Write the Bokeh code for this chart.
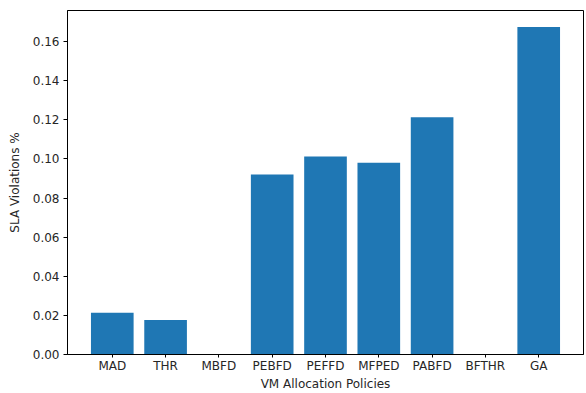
from bokeh.plotting import figure
from bokeh.models import FactorRange, Range1d, FixedTicker, NumeralTickFormatter
from bokeh.embed import file_html
from bokeh.resources import INLINE

policies = ["MAD", "THR", "MBFD", "PEBFD", "PEFFD", "MFPED", "PABFD", "BFTHR", "GA"]
sla_violations = [0.0214, 0.0177, 0.0, 0.0920, 0.1012, 0.0980, 0.1213, 0.0, 0.1675]
y_ticks = [0.0, 0.02, 0.04, 0.06, 0.08, 0.10, 0.12, 0.14, 0.16]

FONT = "DejaVu Sans"

p = figure(
    x_range=FactorRange(factors=policies, range_padding=0.0756),
    y_range=Range1d(0, 0.1759),
    width=586, height=393,
    output_backend="svg", toolbar_location=None,
    min_border_left=67, min_border_right=3, min_border_top=10, min_border_bottom=38,
)

p.vbar(x=policies, top=sla_violations, width=0.8, fill_color="#1f77b4", line_color=None)

p.xgrid.visible = False
p.ygrid.visible = False
p.outline_line_color = "black"
p.outline_line_width = 1
p.outline_line_alpha = 1.0

for ax in (p.xaxis, p.yaxis):
    ax.axis_line_color = "black"
    ax.axis_line_width = 1
    ax.major_tick_line_color = "black"
    ax.major_tick_in = 0
    ax.major_tick_out = 4
    ax.minor_tick_line_color = None
    ax.major_label_text_font = FONT
    ax.major_label_text_font_size = "12px"
    ax.major_label_text_color = "#262626"
    ax.major_label_text_line_height = 1.0
    ax.axis_label_text_font = FONT
    ax.axis_label_text_font_size = "12px"
    ax.axis_label_text_font_style = "normal"
    ax.axis_label_text_color = "#262626"
    ax.axis_label_text_line_height = 1.0

p.yaxis.ticker = FixedTicker(ticks=y_ticks)
p.yaxis.formatter = NumeralTickFormatter(format="0.00")
p.yaxis.axis_label = "SLA Violations %"
p.yaxis.major_label_standoff = 4
p.yaxis.axis_label_standoff = 8
p.xaxis.axis_label = "VM Allocation Policies"
p.xaxis.major_tick_out = 3
p.xaxis.major_label_standoff = 1
p.xaxis.axis_label_standoff = 1

open("out.html", "w").write(file_html(p, INLINE))
